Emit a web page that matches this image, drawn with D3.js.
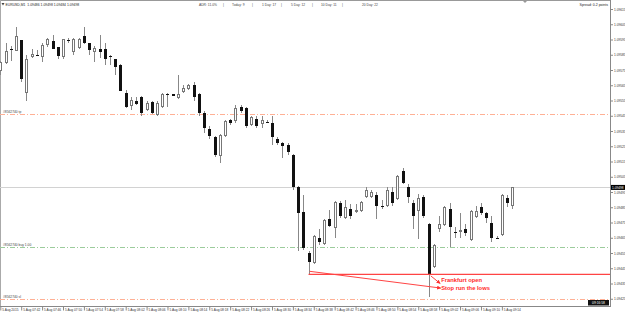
<!DOCTYPE html>
<html>
<head>
<meta charset="utf-8">
<title>EURUSD,M1</title>
<script src="https://d3js.org/d3.v7.min.js"></script>
<style>
  body { margin: 0; background: #fff; }
  svg text { font-family: "Liberation Sans", Arial, sans-serif; }
</style>
</head>
<body>
<script>
// chart size and plot edges
var w = 625, h = 314;
var plotRight = 610, plotBottom = 306;

var symbol = "EURUSD,M1";
var spreadText = "Spread: 0.2 points";
var countdown = "09:16:58";

// one-minute bars, 07:38 .. 09:16
var open  = [1.09575,1.09580,1.09589,1.09588,1.09595,1.09560,1.09584,1.09585,1.09584,1.09592,
             1.09594,1.09590,1.09584,1.09595,1.09587,1.09590,1.09597,1.09593,1.09587,1.09589,
             1.09589,1.09584,1.09582,1.09578,1.09560,1.09552,1.09555,1.09557,1.09549,1.09554,
             1.09546,1.09551,1.09559,1.09559,1.09557,1.09561,1.09563,1.09565,1.09559,1.09547,
             1.09536,1.09531,1.09519,1.09532,1.09542,1.09542,1.09551,1.09550,1.09539,1.09543,
             1.09540,1.09541,1.09540,1.09530,1.09527,1.09526,1.09519,1.09498,1.09482,1.09455,
             1.09449,1.09465,1.09461,1.09477,1.09472,1.09488,1.09478,1.09484,1.09482,1.09483,
             1.09492,1.09492,1.09493,1.09486,1.09486,1.09495,1.09491,1.09509,1.09498,1.09488,
             1.09483,1.09492,1.09474,1.09446,1.09471,1.09474,1.09484,1.09469,1.09469,1.09471,
             1.09464,1.09479,1.09485,1.09481,1.09475,1.09465,1.09467,1.09491,1.09486];
var high  = [1.09581,1.09593,1.09591,1.09603,1.09595,1.09585,1.09589,1.09588,1.09593,1.09596,
             1.09598,1.09590,1.09595,1.09596,1.09596,1.09596,1.09603,1.09593,1.09591,1.09598,
             1.09593,1.09585,1.09582,1.09579,1.09562,1.09557,1.09557,1.09558,1.09555,1.09555,
             1.09555,1.09560,1.09560,1.09559,1.09572,1.09565,1.09566,1.09567,1.09560,1.09548,
             1.09538,1.09532,1.09533,1.09542,1.09543,1.09552,1.09552,1.09551,1.09545,1.09545,
             1.09545,1.09542,1.09545,1.09531,1.09528,1.09527,1.09520,1.09499,1.09493,1.09456,
             1.09467,1.09471,1.09477,1.09483,1.09489,1.09489,1.09490,1.09487,1.09487,1.09489,
             1.09498,1.09496,1.09495,1.09490,1.09498,1.09498,1.09506,1.09511,1.09500,1.09490,
             1.09494,1.09493,1.09475,1.09461,1.09479,1.09486,1.09488,1.09472,1.09481,1.09474,
             1.09483,1.09486,1.09488,1.09482,1.09479,1.09466,1.09494,1.09493,1.09498];
var low   = [1.09572,1.09579,1.09581,1.09588,1.09567,1.09555,1.09583,1.09584,1.09580,1.09590,
             1.09589,1.09582,1.09582,1.09593,1.09585,1.09589,1.09592,1.09585,1.09580,1.09583,
             1.09578,1.09578,1.09572,1.09561,1.09550,1.09549,1.09552,1.09545,1.09548,1.09546,
             1.09545,1.09550,1.09551,1.09558,1.09556,1.09560,1.09562,1.09555,1.09545,1.09534,
             1.09530,1.09518,1.09514,1.09531,1.09539,1.09540,1.09547,1.09537,1.09538,1.09537,
             1.09537,1.09540,1.09526,1.09526,1.09517,1.09519,1.09496,1.09456,1.09457,1.09441,
             1.09448,1.09460,1.09460,1.09472,1.09465,1.09478,1.09477,1.09477,1.09481,1.09482,
             1.09491,1.09491,1.09477,1.09484,1.09485,1.09486,1.09490,1.09500,1.09488,1.09471,
             1.09464,1.09478,1.09426,1.09445,1.09469,1.09473,1.09459,1.09465,1.09465,1.09466,
             1.09463,1.09478,1.09480,1.09475,1.09462,1.09464,1.09466,1.09485,1.09484];
var close = [1.09580,1.09587,1.09589,1.09597,1.09569,1.09582,1.09585,1.09584,1.09591,1.09595,
             1.09589,1.09584,1.09595,1.09595,1.09595,1.09595,1.09593,1.09588,1.09589,1.09587,
             1.09582,1.09584,1.09577,1.09561,1.09551,1.09555,1.09553,1.09547,1.09553,1.09547,
             1.09553,1.09559,1.09559,1.09558,1.09559,1.09563,1.09565,1.09557,1.09547,1.09537,
             1.09532,1.09519,1.09532,1.09541,1.09540,1.09550,1.09548,1.09538,1.09544,1.09538,
             1.09542,1.09540,1.09531,1.09527,1.09525,1.09521,1.09498,1.09481,1.09458,1.09449,
             1.09466,1.09462,1.09476,1.09473,1.09488,1.09479,1.09485,1.09479,1.09483,1.09488,
             1.09496,1.09495,1.09486,1.09485,1.09496,1.09488,1.09505,1.09501,1.09492,1.09479,
             1.09491,1.09479,1.09441,1.09460,1.09474,1.09485,1.09472,1.09468,1.09470,1.09468,
             1.09482,1.09482,1.09481,1.09478,1.09465,1.09465,1.09493,1.09488,1.09498];

// axis labels
var priceLabels = ["1.09615","1.09605","1.09595","1.09585","1.09575","1.09565","1.09555","1.09545",
                   "1.09535","1.09525","1.09515","1.09505","1.09495","1.09485","1.09475","1.09465",
                   "1.09455","1.09445","1.09435","1.09425"];
var timeLabels = ["5 Aug 2015","5 Aug 07:42","5 Aug 07:46","5 Aug 07:50","5 Aug 07:54","5 Aug 07:58",
                  "5 Aug 08:02","5 Aug 08:06","5 Aug 08:10","5 Aug 08:14","5 Aug 08:18","5 Aug 08:22",
                  "5 Aug 08:26","5 Aug 08:30","5 Aug 08:34","5 Aug 08:38","5 Aug 08:42","5 Aug 08:46",
                  "5 Aug 08:50","5 Aug 08:54","5 Aug 08:58","5 Aug 09:02","5 Aug 09:06","5 Aug 09:10",
                  "5 Aug 09:14"];

// ADR indicator text
var adrItems = ["ADR: 11.0%","Today: 9","1 Day: 17","5 Day: 12","10 Day: 11","20 Day: 22"];

// order lines
var levelNames  = ["#8562740 tp","#8562740 buy 1.00","#8562740 sl"];
var levelPrices = [1.09546, 1.09459, 1.09425];

// drawn objects (bar index, price)
var supportLine = [[59, 1.09441], [116.7, 1.09441]];
var stopArrow   = [[59.2, 1.09443], [84.3, 1.09432]];
var openArrow   = [[82.4, 1.09440], [84.2, 1.09435]];
var notes = ["Frankfurt open", "Stop run the lows"];
var notePrices = [1.09436, 1.09431];

var bars = open.map(function(o, i) {
  return {i: i, o: o, h: high[i], l: low[i], c: close[i]};
});
var last = bars[bars.length - 1];

var x = d3.scaleLinear().domain([0, 116.7]).range([0.3, plotRight]);
var y = d3.scaleLinear().domain([1.09615, 1.09425]).range([9, 298.75]);

var svg = d3.select("body").append("svg")
  .attr("width", w).attr("height", h)
  .style("display", "block");

svg.append("rect").attr("width", w).attr("height", h).attr("fill", "#fff");

// frame
svg.append("line").attr("x1", 0).attr("x2", plotRight).attr("y1", 0.5).attr("y2", 0.5)
  .attr("stroke", "#999");
svg.append("line").attr("x1", 0.5).attr("x2", 0.5).attr("y1", 0).attr("y2", plotBottom)
  .attr("stroke", "#aaa");
svg.append("path").attr("d", "M523,1L527,1L525,3Z").attr("fill", "#999");

// bid line
svg.append("line")
  .attr("x1", 0).attr("x2", plotRight)
  .attr("y1", Math.round(y(last.c)) + 0.5).attr("y2", Math.round(y(last.c)) + 0.5)
  .attr("stroke", "#d2d2d2");

// order lines
var levelColors = ["#ffb095", "#9ccc9c", "#ffb095"];
levelPrices.forEach(function(p, k) {
  var yy = Math.round(y(p)) + 0.5;
  svg.append("line")
    .attr("x1", 0).attr("x2", plotRight).attr("y1", yy).attr("y2", yy)
    .attr("stroke", levelColors[k]).attr("stroke-dasharray", "5,2,1,2");
  svg.append("text")
    .attr("x", 3).attr("y", yy - 1.3)
    .attr("font-size", 3.3).attr("fill", "#444")
    .text(levelNames[k]);
});

// candles
var g = svg.append("g").attr("shape-rendering", "crispEdges");
g.selectAll("line.wick").data(bars).join("line")
  .attr("class", "wick")
  .attr("x1", function(d) { return Math.round(x(d.i)) + 0.5; })
  .attr("x2", function(d) { return Math.round(x(d.i)) + 0.5; })
  .attr("y1", function(d) { return y(d.h); })
  .attr("y2", function(d) { return y(d.l); })
  .attr("stroke", "#888");

g.selectAll("rect.body").data(bars).join("rect")
  .attr("class", "body")
  .attr("x", function(d) { return d.c > d.o ? Math.round(x(d.i)) - 0.5 : Math.round(x(d.i)) - 1; })
  .attr("width", function(d) { return d.c > d.o ? 2 : 3; })
  .attr("y", function(d) { return y(Math.max(d.o, d.c)); })
  .attr("height", function(d) { return Math.max(1, Math.abs(y(d.o) - y(d.c))); })
  .attr("fill", function(d) { return d.c > d.o ? "#fff" : "#111"; })
  .attr("stroke", function(d) { return d.c > d.o ? "#777" : "none"; });

// red trend lines and notes
svg.append("defs").append("marker")
  .attr("id", "arr").attr("viewBox", "0 0 10 10")
  .attr("refX", 9).attr("refY", 5)
  .attr("markerWidth", 4).attr("markerHeight", 4)
  .attr("orient", "auto")
  .append("path").attr("d", "M0,0L10,5L0,10Z").attr("fill", "#ff3030");

var line = d3.line().x(function(d) { return x(d[0]); }).y(function(d) { return y(d[1]); });
svg.append("path").attr("d", line(supportLine))
  .attr("stroke", "#ff4444").attr("stroke-width", 1.3).attr("fill", "none");
svg.append("path").attr("d", line(stopArrow))
  .attr("stroke", "#ff4444").attr("stroke-width", 1).attr("fill", "none")
  .attr("marker-end", "url(#arr)");
svg.append("path").attr("d", line(openArrow))
  .attr("stroke", "#ff4444").attr("stroke-width", 1).attr("fill", "none")
  .attr("marker-end", "url(#arr)");
notes.forEach(function(t, k) {
  svg.append("text")
    .attr("x", x(84.4)).attr("y", y(notePrices[k]))
    .attr("font-size", 5.8).attr("font-weight", "bold").attr("fill", "#ff2a2a")
    .text(t);
});

// right price axis
svg.append("line").attr("x1", plotRight + 0.5).attr("x2", plotRight + 0.5)
  .attr("y1", 0).attr("y2", plotBottom).attr("stroke", "#888");
var yAxis = d3.axisRight(y)
  .tickValues(priceLabels.map(Number))
  .tickFormat(function(d, k) { return priceLabels[k]; })
  .tickSize(2.5).tickPadding(1).tickSizeOuter(0);
var ya = svg.append("g").attr("transform", "translate(" + (plotRight + 0.5) + ",0)").call(yAxis);
ya.select(".domain").remove();
ya.selectAll("line").attr("stroke", "#888");
ya.selectAll("text").attr("font-size", 3.2).attr("fill", "#333")
  .attr("font-family", "Liberation Sans, Arial, sans-serif");

// price tag
svg.append("rect").attr("x", plotRight + 1).attr("y", y(last.c) - 2.5)
  .attr("width", 14).attr("height", 5).attr("fill", "#000");
svg.append("text").attr("x", plotRight + 2).attr("y", y(last.c) + 1.3)
  .attr("font-size", 3.2).attr("fill", "#fff").text(last.c.toFixed(5));

// bottom time axis
svg.append("line").attr("x1", 0).attr("x2", plotRight + 1)
  .attr("y1", plotBottom + 0.5).attr("y2", plotBottom + 0.5).attr("stroke", "#888");
var xAxis = d3.axisBottom(x)
  .tickValues(timeLabels.map(function(t, k) { return k * 4; }))
  .tickFormat(function(d, k) { return timeLabels[k]; })
  .tickSize(4).tickPadding(0).tickSizeOuter(0);
var xa = svg.append("g").attr("transform", "translate(0," + (plotBottom + 0.5) + ")").call(xAxis);
xa.select(".domain").remove();
xa.selectAll("line").attr("stroke", "#888");
xa.selectAll("text").attr("font-size", 3.2).attr("fill", "#333")
  .attr("text-anchor", "start").attr("dx", 1.5).attr("y", 2)
  .attr("font-family", "Liberation Sans, Arial, sans-serif");

// countdown box
svg.append("rect").attr("x", 588).attr("y", 300).attr("width", 21).attr("height", 5.5).attr("fill", "#111");
svg.append("text").attr("x", 598.5).attr("y", 304.2).attr("text-anchor", "middle")
  .attr("font-size", 3.3).attr("fill", "#fff").text(countdown);

// header
svg.append("path").attr("d", "M1.5,3L4.5,3L3,5.5Z").attr("fill", "#444");
svg.append("text").attr("x", 5.5).attr("y", 6.3).attr("font-size", 3.4).attr("fill", "#222")
  .attr("xml:space", "preserve")
  .text(symbol + "  " + [last.o, last.h, last.l, last.c].map(function(v) { return v.toFixed(5); }).join(" "));

var adrX = [199, 232, 262, 291, 321, 362];
var sepX = [223, 252, 281, 312, 342];
adrItems.forEach(function(t, k) {
  svg.append("text").attr("x", adrX[k]).attr("y", 6.3).attr("font-size", 3.3)
    .attr("fill", "#444").text(t);
});
sepX.forEach(function(sx) {
  svg.append("text").attr("x", sx).attr("y", 6.3).attr("font-size", 3.3)
    .attr("fill", "#444").text("|");
});
svg.append("text").attr("x", 608).attr("y", 6.3).attr("text-anchor", "end")
  .attr("font-size", 3.5).attr("fill", "#222").text(spreadText);
</script>
</body>
</html>
